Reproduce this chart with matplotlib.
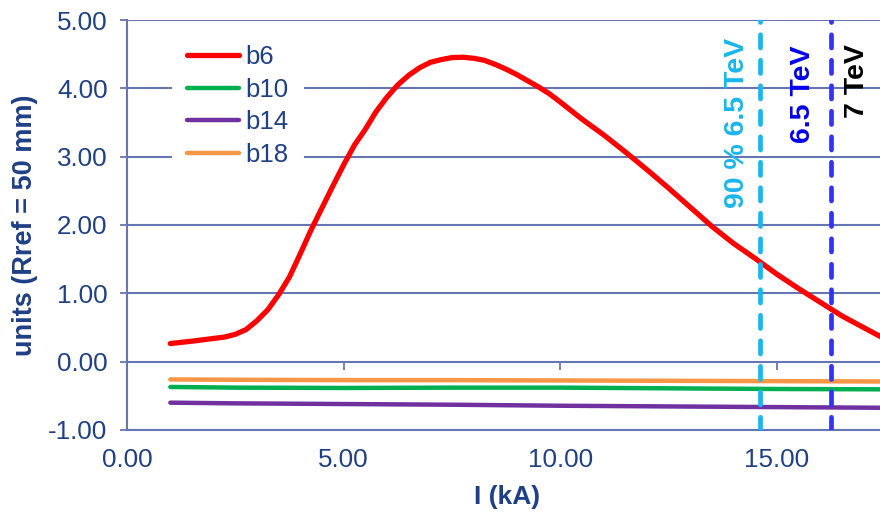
import matplotlib
matplotlib.use("Agg")
import matplotlib.pyplot as plt

plt.rcParams['font.family'] = ['Liberation Sans', 'DejaVu Sans']

# ---- data ----
current_b6 = [1.0, 1.5, 2.0, 2.25, 2.5, 2.75, 3.0, 3.25, 3.5, 3.75, 4.0, 4.25, 4.5, 4.75,
              5.0, 5.25, 5.5, 5.75, 6.0, 6.25, 6.5, 6.75, 7.0, 7.25, 7.5, 7.75,
              8.0, 8.25, 8.5, 8.75, 9.0, 9.25, 9.5, 9.75, 10.0, 10.5, 11.0, 11.5,
              12.0, 12.5, 13.0, 13.5, 14.0, 14.5, 15.0, 15.5, 16.0, 16.5, 17.0, 17.5]
b6 = [0.265, 0.30, 0.34, 0.36, 0.40, 0.47, 0.60, 0.76, 0.98, 1.24, 1.58, 1.93, 2.25, 2.57,
      2.88, 3.17, 3.40, 3.66, 3.87, 4.05, 4.19, 4.30, 4.38, 4.42, 4.45, 4.455,
      4.44, 4.41, 4.35, 4.28, 4.20, 4.11, 4.02, 3.92, 3.80, 3.55, 3.32, 3.07,
      2.81, 2.54, 2.26, 1.98, 1.73, 1.51, 1.28, 1.07, 0.87, 0.67, 0.50, 0.33]
current_flat = [1.0, 2.5, 5.0, 7.5, 10.0, 12.5, 15.0, 17.5]
b10 = [-0.37, -0.38, -0.385, -0.38, -0.38, -0.39, -0.40, -0.405]
b14 = [-0.60, -0.61, -0.62, -0.63, -0.645, -0.655, -0.665, -0.675]
b18 = [-0.26, -0.265, -0.27, -0.27, -0.275, -0.28, -0.285, -0.29]

energy_currents = [14.62, 16.24, 17.47]
energy_labels = ["90 % 6.5 TeV", "6.5 TeV", "7 TeV"]
energy_colors = ["#1AB6EE", "#3333FF", "black"]
energy_text_colors = ["#1AB6EE", "#0000EE", "black"]
label_x = [14.07, 15.60, 16.85]
label_top = [4.74, 4.63, 4.65]

x_ticks = [0, 5, 10, 15]
y_ticks = [-1, 0, 1, 2, 3, 4, 5]

# ---- figure ----
fig = plt.figure(figsize=(8.8, 5.13), dpi=100)
ax = fig.add_axes([127/880, 1 - 430/513, 1 - 127/880, 410/513])

grid_c = "#6676B3"
lab_c = "#1F3F86"

ax.plot(current_b6, b6, color="#FF0000", lw=3.8, label="b6", solid_capstyle="round",
        solid_joinstyle="round", zorder=5)
ax.plot(current_flat, b10, color="#00B050", lw=3.2, label="b10", solid_capstyle="round", zorder=4)
ax.plot(current_flat, b14, color="#7030A0", lw=3.2, label="b14", solid_capstyle="round", zorder=4)
ax.plot(current_flat, b18, color="#F79646", lw=3.2, label="b18", solid_capstyle="round", zorder=4)

for xc, col in zip(energy_currents, energy_colors):
    ax.axvline(xc, color=col, lw=3.4, dashes=(2.8, 2.6), dash_capstyle="round", zorder=6)

for xl, yt, lab, col in zip(label_x, label_top, energy_labels, energy_text_colors):
    ax.text(xl, yt, lab, rotation=90, ha="center", va="top", color=col,
            fontsize=20.5, fontweight="bold", zorder=7)

ax.set_xlim(0, 17.38)
ax.set_ylim(-1, 5)
ax.set_yticks(y_ticks)
ax.set_yticklabels([f"{v:.2f}" for v in y_ticks])
ax.set_xticks(x_ticks)
ax.set_xticklabels([f"{v:.2f}" for v in x_ticks])

ax.grid(axis="y", color=grid_c, lw=1.5)
ax.set_axisbelow(True)
for s in ["top", "right"]:
    ax.spines[s].set_visible(False)
ax.spines["left"].set_color(grid_c)
ax.spines["left"].set_linewidth(1.5)
ax.spines["bottom"].set_color(grid_c)
ax.spines["bottom"].set_linewidth(1.5)

ax.tick_params(axis="y", colors=grid_c, direction="out", length=5, width=1.3,
               labelcolor=lab_c, labelsize=18.7, pad=9)
ax.tick_params(axis="x", length=0, labelcolor=lab_c, labelsize=18.7, pad=13)

sec = ax.secondary_xaxis(1/6)
sec.set_xticks(x_ticks)
sec.tick_params(axis="x", direction="out", length=6, width=1.3, colors=grid_c, labelbottom=False)
sec.spines["bottom"].set_visible(False)

ax.set_xlabel("I (kA)", fontsize=19, fontweight="bold", color=lab_c)
ax.xaxis.set_label_coords(0.505, -0.134)
ax.set_ylabel("units (Rref = 50 mm)", fontsize=19.5, fontweight="bold", color=lab_c)
ax.yaxis.set_label_coords(-0.118, 0.5)

leg = ax.legend(loc="upper left", bbox_to_anchor=(0.0596, 0.9766), frameon=True,
                fancybox=False, facecolor="white", edgecolor="none", framealpha=1.0,
                fontsize=18.5, handlelength=2.0, handletextpad=0.25, labelspacing=0.34,
                borderaxespad=0, borderpad=0.6)
for t in leg.get_texts():
    t.set_color(lab_c)

fig.savefig("out.png", dpi=100)
